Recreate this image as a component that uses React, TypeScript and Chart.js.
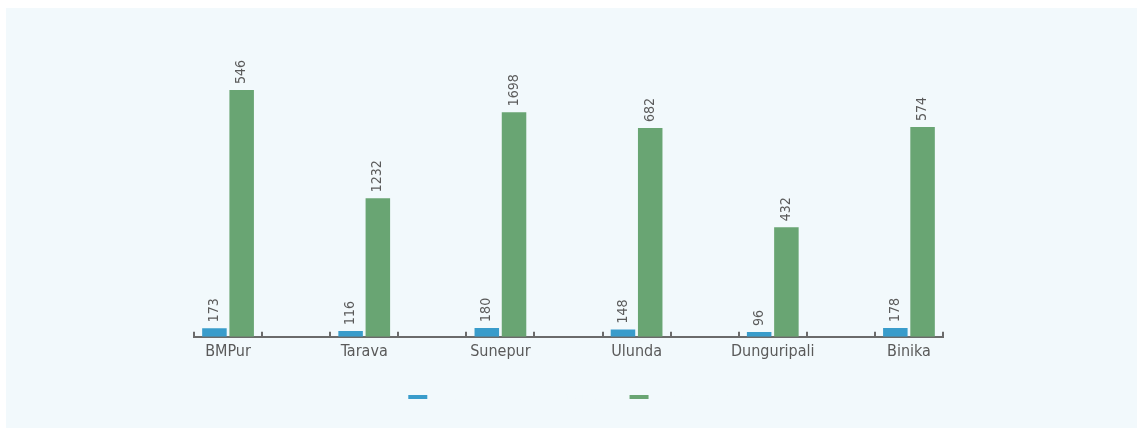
import React, { useEffect, useRef } from "react";
import { Chart, registerables } from "chart.js";

Chart.register(...registerables);

// ---- data ----
const villages = ["BMPur", "Tarava", "Sunepur", "Ulunda", "Dunguripali", "Binika"];
const seriesNames = ["Households - all SHG members", "Membership"];
// blue series: values (bar height and label)
const blueValues = [173, 116, 180, 148, 96, 178];
// green series: bar heights (same hidden scale as blue)
const greenHeights = [4990, 2800, 4540, 4220, 2215, 4240];
// green series: printed labels
const greenLabels = [546, 1232, 1698, 682, 432, 574];
const yMax = 6000;

const BLUE = "#399ccb";
const GREEN = "#69a573";
const TEXT = "#5a5a5a";
const PANEL = "#f2f9fc";

// interleave empty spacer slots between villages
function spaced<T>(arr: T[], blank: T): T[] {
  const out: T[] = [];
  arr.forEach((v, i) => {
    if (i > 0) out.push(blank);
    out.push(v);
  });
  return out;
}

const FONT = "'DejaVu Sans Condensed', 'DejaVu Sans', sans-serif";

const barLabelPlugin = {
  id: "barLabels",
  afterDatasetsDraw(chart: any) {
    const ctx = chart.ctx;
    const labelSets = [spaced<any>(blueValues, null), spaced<any>(greenLabels, null)];
    chart.data.datasets.forEach((ds: any, di: number) => {
      const meta = chart.getDatasetMeta(di);
      meta.data.forEach((el: any, i: number) => {
        const txt = labelSets[di][i];
        if (txt === null || txt === undefined) return;
        ctx.save();
        ctx.translate(el.x, el.y - 6);
        ctx.rotate(-Math.PI / 2);
        ctx.font = "14px " + FONT;
        ctx.fillStyle = TEXT;
        ctx.textAlign = "left";
        ctx.textBaseline = "middle";
        ctx.fillText(String(txt), 0, 0);
        ctx.restore();
      });
    });
  },
};

export default function App() {
  const ref = useRef<HTMLCanvasElement>(null);
  useEffect(() => {
    if (!ref.current) return;
    const chart = new Chart(ref.current, {
      type: "bar",
      data: {
        labels: spaced(villages, ""),
        datasets: [
          {
            label: seriesNames[0],
            data: spaced<any>(blueValues, null),
            backgroundColor: BLUE,
            borderWidth: 0,
          },
          {
            label: seriesNames[1],
            data: spaced<any>(greenHeights, null),
            backgroundColor: GREEN,
            borderWidth: 0,
          },
        ],
      },
      options: {
        responsive: false,
        animation: false,
        devicePixelRatio: 1,
        layout: { padding: { left: 188, right: 188, top: 32, bottom: 15 } },
        plugins: {
          tooltip: { enabled: false },
          legend: {
            position: "bottom",
            labels: {
              boxWidth: 19,
              boxHeight: 4,
              color: PANEL,
              font: { family: "'DejaVu Sans', sans-serif", size: 12 },
              padding: 10,
            },
          },
        },
        scales: {
          x: {
            grid: {
              display: true,
              drawOnChartArea: false,
              drawTicks: true,
              tickLength: -5,
              color: "#6b6b6b",
              lineWidth: 2,
            },
            border: { display: true, color: "#6b6b6b", width: 2 },
            ticks: {
              color: TEXT,
              font: { family: FONT, size: 16 },
              padding: 10,
              autoSkip: false,
              maxRotation: 0,
            },
            afterFit(scale: any) {
              scale.height += 10;
            },
          },
          y: {
            display: false,
            min: 0,
            max: yMax,
          },
        },
      },
      plugins: [barLabelPlugin],
    });
    return () => chart.destroy();
  }, []);
  return (
    <div
      style={{
        position: "absolute",
        left: 6,
        top: 8,
        width: 1131,
        height: 420,
        background: PANEL,
      }}
    >
      <canvas ref={ref} width={1125} height={420} style={{ display: "block" }} />
    </div>
  );
}
